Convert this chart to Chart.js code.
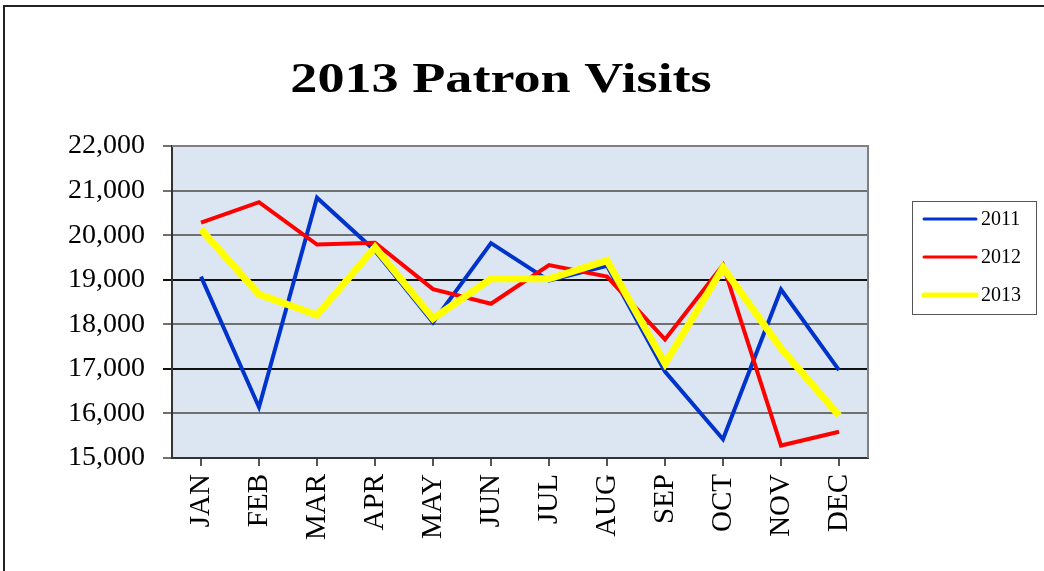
<!DOCTYPE html>
<html>
<head>
<meta charset="utf-8">
<script src="https://cdn.jsdelivr.net/npm/chart.js@4.4.0/dist/chart.umd.min.js"></script>
<style>
  html, body { margin: 0; padding: 0; background: #fff; overflow: hidden; }
  .marco {
    position: absolute; left: 3px; top: 5px;
    width: 2000px; height: 2000px;
    border-top: 2px solid #222; border-left: 2px solid #222;
  }
  #grafico { position: absolute; left: 0; top: 0; }
</style>
</head>
<body>
<div class="marco"></div>
<canvas id="grafico" width="1044" height="571"></canvas>
<script>
const titulo = '2013 Patron Visits';
const meses = ['JAN', 'FEB', 'MAR', 'APR', 'MAY', 'JUN', 'JUL', 'AUG', 'SEP', 'OCT', 'NOV', 'DEC'];
const visitas2011 = [19070, 16140, 20840, 19650, 18040, 19820, 18980, 19310, 16940, 15420, 18780, 16970];
const visitas2012 = [20280, 20740, 19790, 19830, 18790, 18460, 19330, 19070, 17660, 19330, 15280, 15590];
const visitas2013 = [20130, 18670, 18210, 19730, 18130, 19020, 19020, 19430, 17120, 19270, 17460, 15950];
const ticksY = [15000, 16000, 17000, 18000, 19000, 20000, 21000, 22000];

const fuente = '"Liberation Serif", "Times New Roman", serif';

// fondo azul del area del grafico y marco gris
const fondoPlot = {
    id: 'fondoPlot',
    beforeDraw(chart) {
        const { ctx, chartArea: a } = chart;
        ctx.save();
        ctx.fillStyle = '#dce6f2';
        ctx.fillRect(a.left, a.top, a.right - a.left, a.bottom - a.top);
        ctx.restore();
    },
    afterDatasetsDraw(chart) {
        const { ctx, chartArea: a } = chart;
        ctx.save();
        ctx.strokeStyle = '#808080';
        ctx.lineWidth = 2;
        ctx.beginPath();
        ctx.moveTo(a.left, a.top);
        ctx.lineTo(a.right, a.top);
        ctx.lineTo(a.right, a.bottom);
        ctx.stroke();
        ctx.restore();
    }
};

// titulo algo estirado a lo ancho, como en la imagen original
const tituloPlugin = {
    id: 'tituloPlugin',
    afterDraw(chart) {
        const ctx = chart.ctx;
        ctx.save();
        ctx.translate(501, 92);
        ctx.scale(1.26, 1);
        ctx.font = 'bold 43px ' + fuente;
        ctx.textAlign = 'center';
        ctx.textBaseline = 'alphabetic';
        ctx.fillStyle = '#000';
        ctx.fillText(titulo, 0, 0);
        ctx.restore();
    }
};

// leyenda con recuadro, como en Excel
const leyenda = {
    id: 'leyenda',
    afterDraw(chart) {
        const { ctx, chartArea: a } = chart;
        const x0 = a.right + 44, y0 = a.top + 55;
        ctx.save();
        ctx.strokeStyle = '#555';
        ctx.lineWidth = 1;
        ctx.strokeRect(x0 + 0.5, y0 + 0.5, 124, 113);
        ctx.font = '20px ' + fuente;
        ctx.textBaseline = 'middle';
        ctx.fillStyle = '#000';
        chart.data.datasets.forEach((ds, i) => {
            const y = y0 + 18 + i * 38;
            ctx.strokeStyle = ds.borderColor;
            ctx.lineWidth = ds.legendWidth;
            ctx.lineCap = 'round';
            ctx.beginPath();
            ctx.moveTo(x0 + 12, y);
            ctx.lineTo(x0 + 64, y);
            ctx.stroke();
            ctx.fillText(ds.label, x0 + 69, y + 1);
        });
        ctx.restore();
    }
};

const ctx = document.getElementById('grafico').getContext('2d');
new Chart(ctx, {
    type: 'line',
    data: {
        labels: meses,
        datasets: [
            { label: '2011', data: visitas2011, borderColor: '#0033cc', borderWidth: 4, legendWidth: 3, order: 2 },
            { label: '2012', data: visitas2012, borderColor: '#ff0000', borderWidth: 4, legendWidth: 3, order: 1 },
            { label: '2013', data: visitas2013, borderColor: '#ffff00', borderWidth: 7, legendWidth: 5, order: 0 }
        ]
    },
    options: {
        responsive: false,
        animation: false,
        elements: {
            line: { tension: 0, fill: false, borderJoinStyle: 'miter' },
            point: { radius: 0, hoverRadius: 0 }
        },
        layout: { padding: { left: 0, right: 176, top: 146, bottom: 0 } },
        plugins: {
            legend: { display: false },
            tooltip: { enabled: false },
            title: { display: false }
        },
        scales: {
            x: {
                offset: true,
                afterFit(scale) { scale.height = 113; },
                grid: { drawOnChartArea: false, drawTicks: true, tickLength: 8, color: '#555', lineWidth: 2 },
                border: { color: '#333', width: 2 },
                ticks: {
                    color: '#000',
                    font: { family: fuente, size: 29 },
                    maxRotation: 90, minRotation: 90,
                    padding: 8
                }
            },
            y: {
                min: 15000, max: 22000,
                afterFit(scale) { scale.width = 172; },
                afterBuildTicks(scale) { scale.ticks = ticksY.map(v => ({ value: v })); },
                grid: {
                    color: c => (c.tick && (c.tick.value === 17000 || c.tick.value === 19000)) ? '#111' : '#707070',
                    lineWidth: 2,
                    tickLength: 9
                },
                border: { color: '#333', width: 2 },
                ticks: {
                    color: '#000',
                    font: { family: fuente, size: 28 },
                    padding: 18,
                    callback: v => v.toLocaleString('en-US')
                }
            }
        }
    },
    plugins: [fondoPlot, tituloPlugin, leyenda]
});
</script>
</body>
</html>
